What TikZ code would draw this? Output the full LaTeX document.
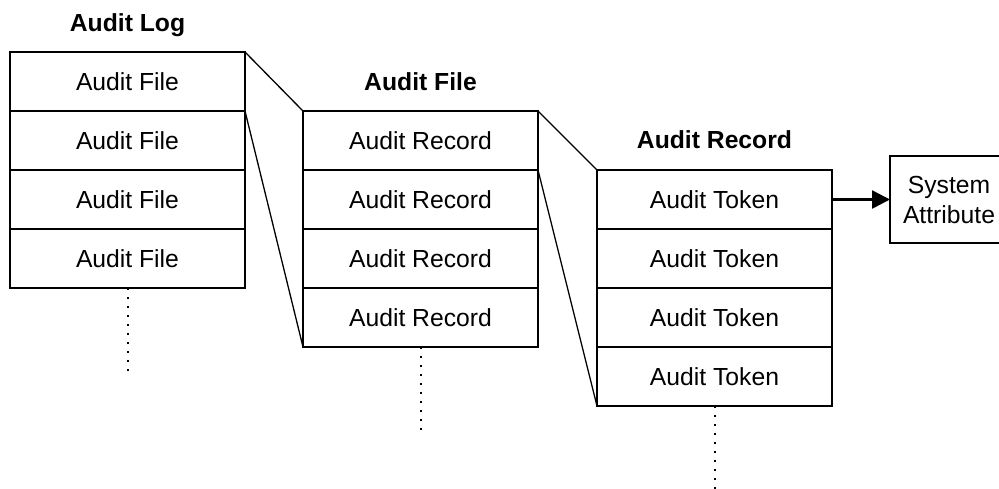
\documentclass[tikz,border=0pt]{standalone}
\usepackage{fontspec}
\setmainfont{Liberation Sans}
\usetikzlibrary{arrows.meta, positioning}

\begin{document}
\begin{tikzpicture}[x=1pt, y=-1pt,
    cell/.style={draw, line width=1.3pt, minimum width=235pt, minimum height=59pt,
        inner sep=0pt, outer sep=0pt, font=\fontsize{24.7}{30}\selectfont},
    title/.style={font=\fontsize{24.7}{30}\selectfont\bfseries, anchor=base},
    link/.style={line width=1.3pt},
    more/.style={line width=2pt, dash pattern=on 2pt off 7pt}]
\clip (0,0) rectangle (999,488);

% audit log
\node[title] (logTitle) at (127.5,31) {Audit Log};
\node[cell] (log1) at (127.5,81.5) {Audit File};
\node[cell, below=0pt of log1] (log2) {Audit File};
\node[cell, below=0pt of log2] (log3) {Audit File};
\node[cell, below=0pt of log3] (log4) {Audit File};

% audit file
\node[title] (fileTitle) at (420.5,90) {Audit File};
\node[cell] (file1) at (420.5,140.5) {Audit Record};
\node[cell, below=0pt of file1] (file2) {Audit Record};
\node[cell, below=0pt of file2] (file3) {Audit Record};
\node[cell, below=0pt of file3] (file4) {Audit Record};

% audit record
\node[title] (recTitle) at (714.5,148.5) {Audit Record};
\node[cell] (rec1) at (714.5,199.5) {Audit Token};
\node[cell, below=0pt of rec1] (rec2) {Audit Token};
\node[cell, below=0pt of rec2] (rec3) {Audit Token};
\node[cell, below=0pt of rec3] (rec4) {Audit Token};

\node[draw, line width=1.3pt, minimum width=118pt, minimum height=87pt, inner sep=0pt,
    outer sep=0pt, align=center, font=\fontsize{24.7}{30}\selectfont]
    (attr) at (949,199.5) {System\\Attribute};

% zoom lines
\draw[link] (log1.north east) -- (file1.north west);
\draw[link] (log1.south east) -- (file4.south west);
\draw[link] (file1.north east) -- (rec1.north west);
\draw[link] (file1.south east) -- (rec4.south west);

\draw[-{Triangle[length=18pt, width=18pt]}, line width=2.5pt] (rec1) -- (attr);

% continuation dots
\coordinate[below=83pt of log4.south] (logDots);
\coordinate[below=83pt of file4.south] (fileDots);
\coordinate[below=83pt of rec4.south] (recDots);
\draw[more] (log4.south) -- (logDots);
\draw[more] (file4.south) -- (fileDots);
\draw[more] (rec4.south) -- (recDots);
\end{tikzpicture}
\end{document}
